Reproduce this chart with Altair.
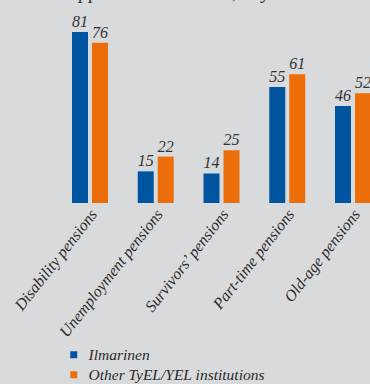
import altair as alt
import pandas as pd

categories = ["Disability pensions", "Unemployment pensions", "Survivors\u2019 pensions",
              "Part-time pensions", "Old-age pensions"]
series = ["Ilmarinen", "Other TyEL/YEL institutions"]
ilmarinen = [81, 15, 14, 55, 46]
others = [76, 22, 25, 61, 52]
title_text = "applications in 2011, days"

rows = []
for c, a, b in zip(categories, ilmarinen, others):
    rows.append({"category": c, "series": series[0], "value": a})
    rows.append({"category": c, "series": series[1], "value": b})
df = pd.DataFrame(rows)

BG = "#d9dadc"
FONT = "Liberation Serif"
colors = ["#0055a0", "#ec6e0a"]

x = alt.X("category:N", sort=categories, title=None,
          scale=alt.Scale(range=[57.125, 385.875], paddingInner=0.4525, paddingOuter=0.22625),
          axis=alt.Axis(labelAngle=308, domain=False, ticks=False, labelPadding=8, labelOffset=4,
                        labelFont=FONT, labelFontStyle="italic", labelFontSize=16,
                        labelColor="#2a2a2a", labelAlign="right", labelBaseline="middle",
                        labelOverlap=False, labelLimit=300))
xo = alt.XOffset("series:N", sort=series, scale=alt.Scale(paddingInner=0.2, paddingOuter=0))
y = alt.Y("value:Q", scale=alt.Scale(domain=[0, 96.2], nice=False, zero=True), axis=None)

bars = alt.Chart(df).mark_bar(cornerRadius=0).encode(
    x=x, xOffset=xo, y=y,
    color=alt.Color("series:N", sort=series, scale=alt.Scale(domain=series, range=colors),
                    legend=alt.Legend(orient="none", legendX=66, legendY=347, title=None,
                                      symbolType="square", symbolSize=49, symbolStrokeWidth=0,
                                      labelFont=FONT, labelFontStyle="italic", labelFontSize=15.5,
                                      labelColor="#2a2a2a", labelOffset=7, rowPadding=3,
                                      labelLimit=0, padding=0))
)

labels = alt.Chart(df).mark_text(baseline="alphabetic", dy=-5, font=FONT, fontStyle="italic",
                                 fontSize=16, color="#333333").encode(
    x=x, xOffset=xo, y=y, text="value:Q"
)

title = alt.Chart(pd.DataFrame({"t": [title_text]})).mark_text(
    align="left", baseline="alphabetic", font=FONT, fontStyle="italic", fontSize=20,
    color="#333333"
).encode(x=alt.value(69), y=alt.value(-2), text="t:N")

chart = (bars + labels + title).properties(
    width=370, height=203,
    padding={"left": 0, "top": 0, "right": 0, "bottom": 181},
    autosize=alt.AutoSizeParams(type="none"),
    background=BG,
).configure_view(stroke=None)

chart.save("out.html", embed_options={"renderer": "svg", "actions": False})
